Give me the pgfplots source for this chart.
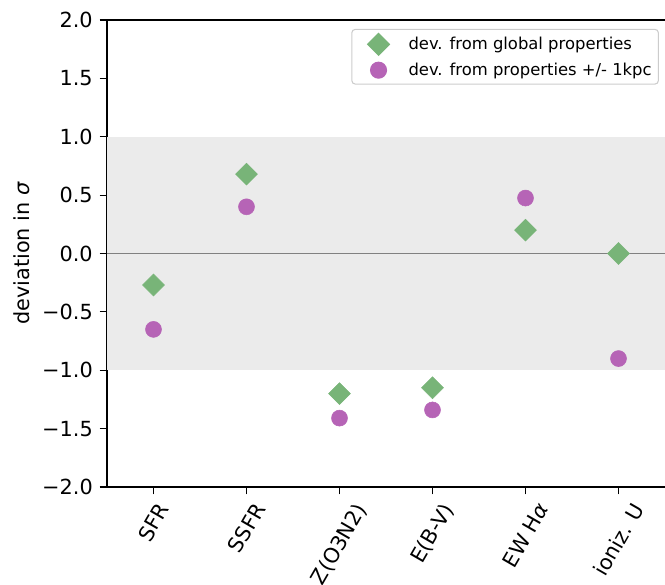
\documentclass[border=0pt]{standalone}
\usepackage{fontspec}
\setmainfont{DejaVu Sans}
\usepackage{pgfplots}
\pgfplotsset{compat=1.18}
\definecolor{cgreen}{RGB}{120,180,120}
\definecolor{cpurple}{RGB}{182,100,182}
\definecolor{band}{RGB}{235,235,235}
\definecolor{zline}{RGB}{128,128,128}
\newcommand{\tf}{\fontsize{15.6}{18.7}\selectfont}
\pgfplotsset{mylegend/.style={legend image code/.code={\path[draw=none,fill=none] (-17pt,0pt) rectangle (20.5pt,0.1pt); \draw[##1] plot coordinates {(0pt,0pt)};}}}
\begin{document}
\begin{tikzpicture}[x=1pt,y=1pt]
\begin{axis}[
  name=ax,
  scale only axis,
  width=418.5pt, height=350.25pt,
  xmin=-0.5, xmax=5.5, ymin=-2, ymax=2,
  axis lines*=left,
  axis line style={line width=0.9pt},
  tick style={black, line width=0.9pt},
  tick align=outside,
  major tick length=5.5pt,
  xtick={0,1,2,3,4,5},
  xticklabels={\rotatebox{60}{SFR},\rotatebox{60}{SSFR},\rotatebox{60}{Z(O3N2)},\rotatebox{60}{E(B-V)},\rotatebox{60}{EW H\textit{α}},\rotatebox{60}{ioniz. U}},
  xticklabel style={anchor=north, font=\tf, inner sep=0pt, yshift=-5pt},
  ytick={-2,-1.5,-1,-0.5,0,0.5,1,1.5,2},
  yticklabels={−2.0,−1.5,−1.0,−0.5,0.0,0.5,1.0,1.5,2.0},
  yticklabel style={font=\tf, inner sep=0pt, xshift=-5pt, anchor=east},
  ylabel={deviation in \textit{σ}},
  every axis y label/.style={at={([xshift=-63.75pt]rel axis cs:0,0.5)}, rotate=90, anchor=center, font=\tf},
  clip=false,
  legend style={at={(rel axis cs:0.989,0.981)}, anchor=north east,
    font=\fontsize{12.3}{14.8}\selectfont, draw=black!20, line width=0.8pt, rounded corners=2.5pt,
    inner xsep=3pt, inner ysep=3pt, row sep=3.75pt},
  legend cell align=left,
]
\fill[band] (axis cs:-0.5,-1) rectangle (axis cs:5.5,1);
\draw[zline, line width=1.1pt] (axis cs:-0.5,0) -- (axis cs:5.5,0);
\draw[black, line width=0.9pt] (rel axis cs:0,1) -- (rel axis cs:1,1);
\addplot[only marks, mark=square*, mark size=5.8pt, mark options={rotate=45, fill=cgreen, draw=cgreen}, mylegend]
  coordinates {(0,-0.27) (1,0.68) (2,-1.20) (3,-1.15) (4,0.20) (5,0.00)};
\addlegendentry{dev. from global properties}
\addplot[only marks, mark=*, mark size=6pt, mark options={fill=cpurple, draw=cpurple}, mylegend]
  coordinates {(0,-0.65) (1,0.40) (2,-1.41) (3,-1.34) (4,0.475) (5,-0.90)};
\addlegendentry{dev. from properties +/- 1kpc}
\end{axis}
\pgfresetboundingbox
\path[use as bounding box] ([xshift=-80.25pt,yshift=-73.5pt]ax.south west) rectangle ([yshift=15pt]ax.north east);
\end{tikzpicture}
\end{document}
